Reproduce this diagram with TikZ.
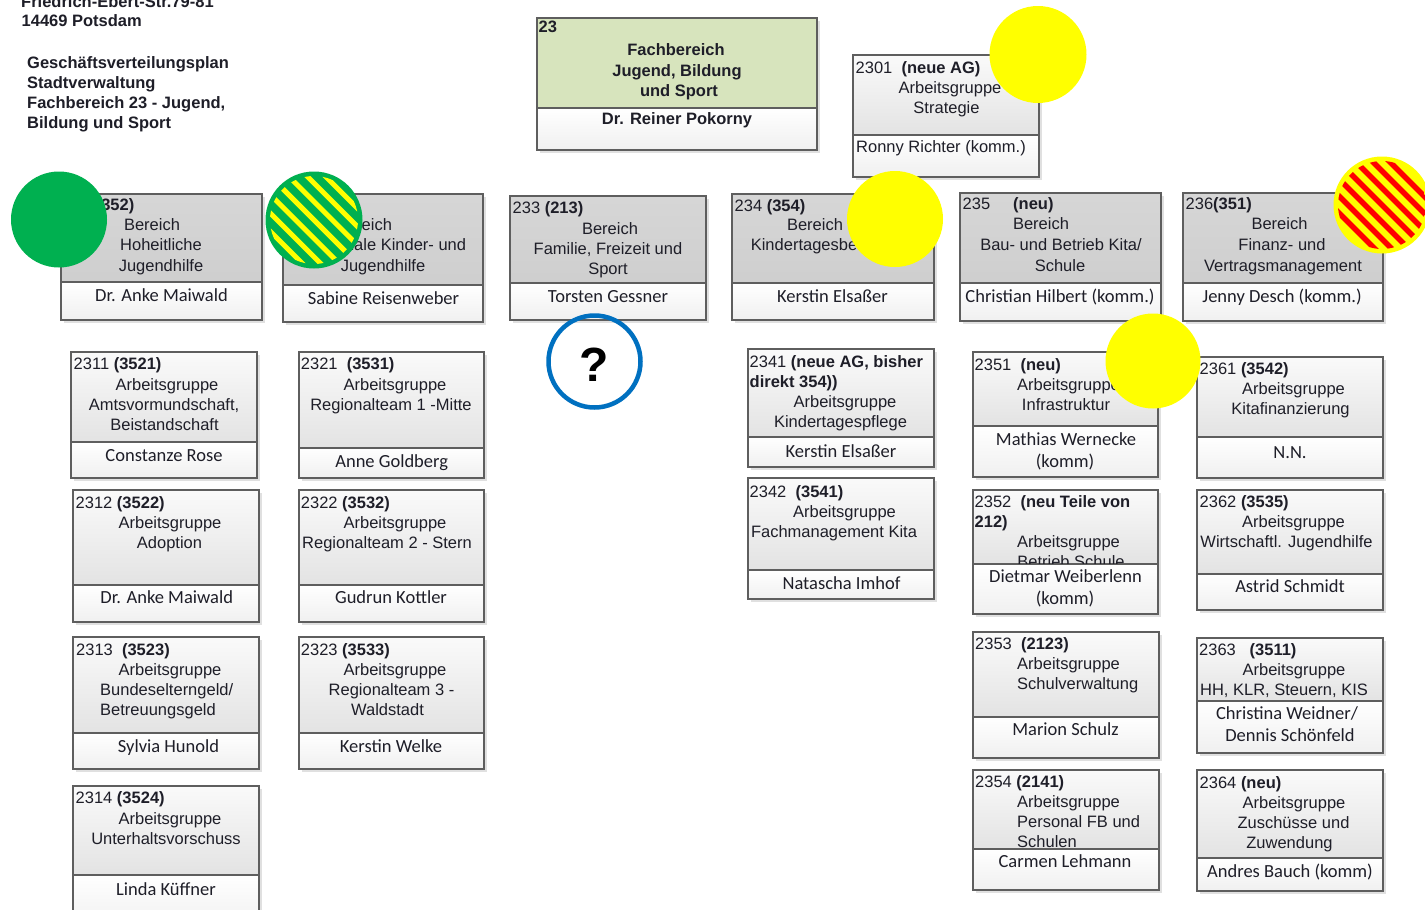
\documentclass[tikz,border=0pt]{standalone}
\usepackage{fontspec}
\setmainfont{Liberation Sans}
\newfontfamily\calib{Carlito}
\definecolor{framec}{HTML}{5E5E5E}
\definecolor{txtc}{HTML}{1E1E28}
\definecolor{greenc}{HTML}{00B050}
\definecolor{yellowc}{HTML}{FFFF00}
\definecolor{redc}{HTML}{FF0000}
\definecolor{bluec}{HTML}{0070C0}
\definecolor{fbgreen}{HTML}{D7E4BD}
\newcommand\arialsz{\fontsize{16.5}{20}\selectfont}
\newcommand\calsz{\calib\fontsize{18.5}{22}\selectfont}
\newcounter{tn}
\tikzset{
  boxframe/.style={draw=framec, line width=1.3pt},
  topA/.style={top color=black!2, bottom color=black!11},
  topB/.style={top color=black!16, bottom color=black!19},
  top23/.style={fill=fbgreen},
  lowpart/.style={top color=white, bottom color=black!6},
  shadowbox/.style={fill=black!12},
  ta/.style={font=\arialsz, text=txtc, inner sep=0pt, anchor=base},
  tc/.style={font=\calsz, text=txtc, inner sep=0pt, anchor=base},
}
% name, x1, y1, x2, y2, ydiv, top style
\newcommand\obox[7]{%
  \fill[shadowbox] (#2+3,#3+3) rectangle (#4+3,#5+3);
  \path[#7] (#2,#3) rectangle (#4,#6);
  \path[lowpart] (#2,#6) rectangle (#4,#5);
  \node[boxframe, inner sep=0pt, outer sep=0pt, minimum width={(#4-#2)*1pt}, minimum height={(#5-#3)*1pt}, anchor=north west] (#1) at (#2,#3) {};
  \draw[boxframe] (#2,#6) -- (#4,#6);
}
\newcommand\TA[3]{\stepcounter{tn}\node[ta] (t\arabic{tn}) at (#1,#2+6) {#3};}
\newcommand\TL[3]{\stepcounter{tn}\node[ta,anchor=base west] (t\arabic{tn}) at (#1,#2+6) {#3};}
\newcommand\TB[3]{\stepcounter{tn}\node[ta,font=\arialsz\bfseries] (t\arabic{tn}) at (#1,#2+6) {#3};}
\newcommand\TBL[3]{\stepcounter{tn}\node[ta,font=\arialsz\bfseries,anchor=base west] (t\arabic{tn}) at (#1,#2+6) {#3};}
\newcommand\TC[3]{\stepcounter{tn}\node[tc] (t\arabic{tn}) at (#1,#2+6) {#3};}
\begin{document}
\begin{tikzpicture}[x=1pt,y=-1pt]
\path[use as bounding box] (0,0) rectangle (1425,910);
\clip (0,0) rectangle (1425,910);
\fill[white] (0,0) rectangle (1425,910);

% header text
\TBL{21}{1}{Friedrich-Ebert-Str.79-81}
\TBL{21.5}{20.5}{14469 Potsdam}
\TBL{27}{62.5}{Geschäftsverteilungsplan}
\TBL{27}{82.5}{Stadtverwaltung}
\TBL{27}{102.5}{Fachbereich 23 - Jugend,}
\TBL{27}{122.5}{Bildung und Sport}

% Fachbereich 23
\obox{b23}{537}{18}{817}{150}{108}{top23}
\TBL{538.5}{26}{23}
\TB{676}{49.5}{Fachbereich}
\TB{677}{70}{Jugend, Bildung}
\TB{679}{90}{und Sport}
\TB{677}{118.5}{Dr. Reiner Pokorny}

% 2301
\obox{b2301}{853}{55}{1039}{177}{135}{topA}
\TL{855.5}{67.5}{2301\ \ \textbf{(neue AG)}}
\TA{950}{87.5}{Arbeitsgruppe}
\TA{946.5}{107}{Strategie}
\TL{856}{146.5}{Ronny Richter (komm.)}

% Bereiche
\obox{b231}{61}{194}{262}{320}{282}{topB}
\TL{63.5}{204}{231 \textbf{(352)}}
\TA{152}{224}{Bereich}
\TA{161}{244.5}{Hoheitliche}
\TA{161}{265}{Jugendhilfe}
\TC{161.5}{295}{Dr. Anke Maiwald}

\obox{b232}{283}{194}{483}{322}{285}{topB}
\TL{285.5}{204}{232 \textbf{(353)}}
\TA{364}{224}{Bereich}
\TA{384}{244.5}{Regionale Kinder- und}
\TA{383}{265}{Jugendhilfe}
\TC{383.5}{298.5}{Sabine Reisenweber}

\obox{b233}{510}{196}{706}{320}{283}{topB}
\TL{512.5}{207.5}{233 \textbf{(213)}}
\TA{610}{228}{Bereich}
\TA{608}{248}{Familie, Freizeit und}
\TA{608}{268}{Sport}
\TC{608}{296}{Torsten Gessner}

\obox{b234}{732}{194}{934}{320}{283}{topB}
\TL{734.5}{205}{234 \textbf{(354)}}
\TA{815}{224}{Bereich}
\TA{832}{244.5}{Kindertagesbetreuung}
\TC{832.5}{296}{Kerstin Elsaßer}

\obox{b235}{960}{193}{1161}{321}{283}{topB}
\TL{962.5}{203.5}{235\hspace{23pt}\textbf{(neu)}}
\TA{1041}{223.5}{Bereich}
\TA{1061}{244}{Bau- und Betrieb Kita/}
\TA{1060}{265}{Schule}
\TC{1060}{296}{Christian Hilbert (komm.)}

\obox{b236}{1183}{193}{1383}{321}{283}{topB}
\TL{1185.5}{203.5}{236\textbf{(351)}}
\TA{1279.5}{223.5}{Bereich}
\TA{1282}{244}{Finanz- und}
\TA{1283}{265}{Vertragsmanagement}
\TC{1282}{296}{Jenny Desch (komm.)}

% column 231
\obox{b2311}{71}{352}{257}{478}{442}{topA}
\TL{73.5}{363.5}{2311 \textbf{(3521)}}
\TA{167}{384}{Arbeitsgruppe}
\TA{164}{404}{Amtsvormundschaft,}
\TA{164.5}{424}{Beistandschaft}
\TC{164}{455.5}{Constanze Rose}

\obox{b2312}{73}{490}{259}{622}{585}{topA}
\TL{75.5}{502}{2312 \textbf{(3522)}}
\TA{170}{522}{Arbeitsgruppe}
\TA{169.5}{542}{Adoption}
\TC{166.7}{597.5}{Dr. Anke Maiwald}

\obox{b2313}{73}{637}{259}{769}{733}{topA}
\TL{76}{649}{2313\ \ \textbf{(3523)}}
\TA{170}{669}{Arbeitsgruppe}
\TL{100}{689}{Bundeselterngeld/}
\TL{100}{709}{Betreuungsgeld}
\TC{168.5}{746}{Sylvia Hunold}

\obox{b2314}{73}{786}{259}{930}{875}{topA}
\TL{75.5}{797.5}{2314 \textbf{(3524)}}
\TA{170}{818}{Arbeitsgruppe}
\TA{166}{838}{Unterhaltsvorschuss}
\TC{166}{889}{Linda Küffner}

% column 232
\obox{b2321}{299}{352}{484}{478}{448}{topA}
\TL{300.7}{363.5}{2321\ \ \textbf{(3531)}}
\TA{395}{384}{Arbeitsgruppe}
\TA{391}{404}{Regionalteam 1 -Mitte}
\TC{391.7}{461.5}{Anne Goldberg}

\obox{b2322}{299}{490}{484}{622}{585}{topA}
\TL{300.7}{502}{2322 \textbf{(3532)}}
\TA{395}{522}{Arbeitsgruppe}
\TA{387}{542}{Regionalteam 2 - Stern}
\TC{391}{597.5}{Gudrun Kottler}

\obox{b2323}{299}{637}{484}{769}{733}{topA}
\TL{300.7}{649}{2323 \textbf{(3533)}}
\TA{395}{669}{Arbeitsgruppe}
\TA{391.5}{689}{Regionalteam 3 -}
\TA{387.5}{709}{Waldstadt}
\TC{391}{746}{Kerstin Welke}

% column 234
\obox{b2341}{748}{349}{934}{467}{437}{topA}
\TL{749.5}{361}{2341 \textbf{(neue AG, bisher}}
\TL{749.5}{381}{\textbf{direkt 354))}}
\TA{845}{401}{Arbeitsgruppe}
\TA{840.5}{421}{Kindertagespflege}
\TC{841}{451.5}{Kerstin Elsaßer}

\obox{b2342}{748}{478}{934}{599}{570}{topA}
\TL{749.5}{491}{2342\ \ \textbf{(3541)}}
\TA{844.5}{511}{Arbeitsgruppe}
\TA{834}{531}{Fachmanagement Kita}
\TC{841.5}{583}{Natascha Imhof}

% column 235
\obox{b2351}{973}{352}{1158}{477}{426}{topA}
\TL{974.5}{364}{2351\ \ \textbf{(neu)}}
\TA{1068.5}{384}{Arbeitsgruppe}
\TA{1066}{404}{Infrastruktur}
\TC{1066}{439}{Mathias Wernecke}
\TC{1065}{461}{(komm)}

\obox{b2352}{973}{490}{1158}{614}{564}{topA}
\TL{974.5}{501.5}{2352\ \ \textbf{(neu Teile von}}
\TL{974.5}{521.5}{\textbf{212)}}
\TA{1068.5}{541.5}{Arbeitsgruppe}
\begin{scope}
\clip (973,490) rectangle (1158,563.3);
\TA{1071}{561.5}{Betrieb Schule}
\end{scope}
\TC{1065.5}{576.5}{Dietmar Weiberlenn}
\TC{1065}{598}{(komm)}

\obox{b2353}{973}{632}{1159}{758}{717}{topA}
\TL{975}{643.5}{2353\ \ \textbf{(2123)}}
\TL{1017}{663.5}{Arbeitsgruppe}
\TL{1017}{683.5}{Schulverwaltung}
\TC{1065.5}{729.5}{Marion Schulz}

\obox{b2354}{973}{770}{1159}{890}{849}{topA}
\TL{975}{781.5}{2354 \textbf{(2141)}}
\TL{1017}{801.5}{Arbeitsgruppe}
\TL{1017}{821.5}{Personal FB und}
\TL{1017}{841.5}{Schulen}
\TC{1065}{861.5}{Carmen Lehmann}

% column 236
\obox{b2361}{1197}{357}{1383}{478}{437}{topA}
\TL{1199.5}{368.5}{2361 \textbf{(3542)}}
\TA{1293.5}{388.5}{Arbeitsgruppe}
\TA{1290.5}{408.5}{Kitafinanzierung}
\TC{1290}{452.5}{N.N.}

\obox{b2362}{1197}{490}{1383}{610}{574}{topA}
\TL{1199.5}{501.5}{2362 \textbf{(3535)}}
\TA{1293.5}{521.5}{Arbeitsgruppe}
\TA{1286.5}{541.5}{Wirtschaftl. Jugendhilfe}
\TC{1290}{586.5}{Astrid Schmidt}

\obox{b2363}{1197}{638}{1383}{753}{701}{topA}
\TL{1199}{649.5}{2363\ \ \ \textbf{(3511)}}
\TA{1294}{669.5}{Arbeitsgruppe}
\TA{1284}{689.5}{HH, KLR, Steuern, KIS}
\TC{1287}{713.5}{Christina Weidner/}
\TC{1290}{735}{Dennis Schönfeld}

\obox{b2364}{1197}{770}{1383}{891}{858}{topA}
\TL{1199.5}{782}{2364 \textbf{(neu)}}
\TA{1294}{802}{Arbeitsgruppe}
\TA{1293.5}{822}{Zuschüsse und}
\TA{1289.5}{842}{Zuwendung}
\TC{1290}{871}{Andres Bauch (komm)}

% status circles
\fill[greenc] (59,219.5) circle[radius=48pt];
\fill[yellowc] (1038,54.5) circle[radius=48.5pt];
\fill[yellowc] (895,219) circle[radius=48pt];
\fill[yellowc] (1153,361) circle[radius=47.5pt];

\begin{scope}
\fill[greenc] (314,220) circle[radius=48.5pt];
\clip (314,220) circle[radius=44pt];
\foreach \k in {-6,...,6}
  \draw[yellowc, line width=5pt] ({314+\k*9.2-70},{220-\k*9.2-70}) -- ({314+\k*9.2+70},{220-\k*9.2+70});
\end{scope}

\begin{scope}
\fill[yellowc] (1382,205) circle[radius=48.5pt];
\clip (1382,205) circle[radius=44pt];
\foreach \k in {-6,...,6}
  \draw[redc, line width=5.5pt] ({1382+\k*8.5-70},{205-\k*8.5-70}) -- ({1382+\k*8.5+70},{205-\k*8.5+70});
\end{scope}

\draw[bluec, line width=4.5pt] (594.5,361.5) circle[radius=46pt];
\node[font=\fontsize{48}{50}\selectfont\bfseries, inner sep=0pt, text=black] (q) at (594,364.5) {?};
\end{tikzpicture}
\end{document}
